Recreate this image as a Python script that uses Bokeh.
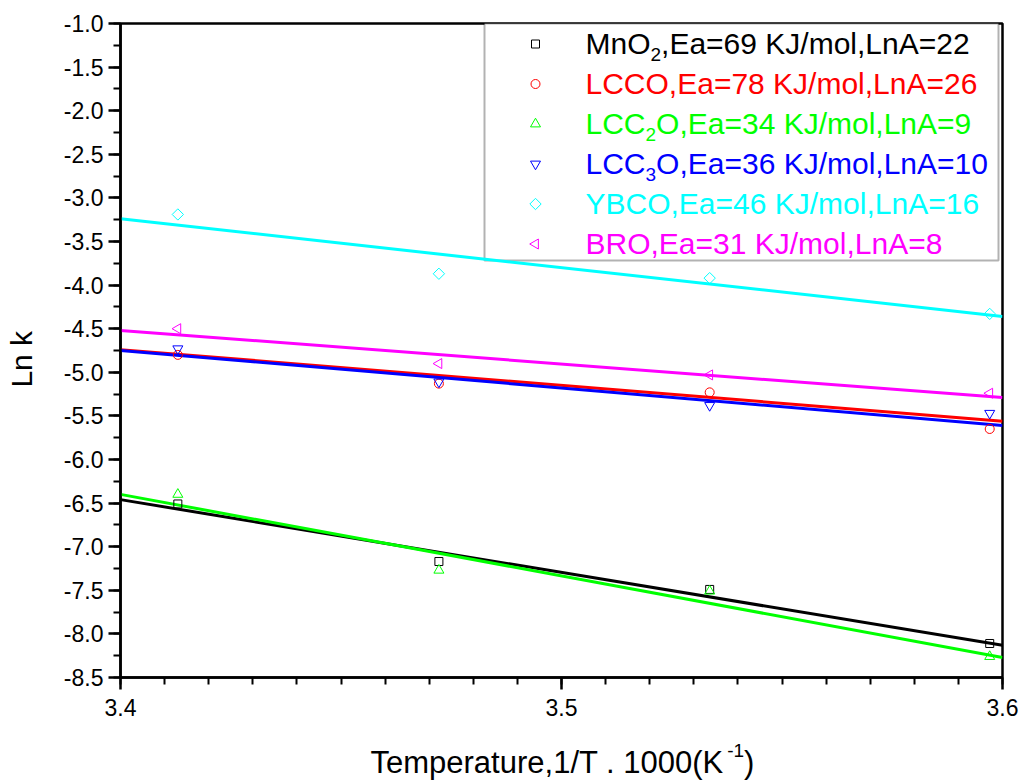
import numpy as np
from bokeh.plotting import figure
from bokeh.layouts import column, row
from bokeh.models import FixedTicker, NumeralTickFormatter, Label, BoxAnnotation, Range1d
from bokeh.embed import file_html
from bokeh.resources import INLINE

# ---------------- data ----------------
inv_T = [3.4130, 3.4722, 3.5336, 3.5971]          # 1000/T (K^-1)

lnk_mno2  = [-6.51, -7.17, -7.49, -8.11]
lnk_lcco  = [-4.80, -5.13, -5.23, -5.65]
lnk_lcc2o = [-6.40, -7.27, -7.51, -8.26]
lnk_lcc3o = [-4.73, -5.11, -5.38, -5.47]
lnk_ybco  = [-3.19, -3.87, -3.92, -4.33]
lnk_bro   = [-4.50, -4.90, -5.03, -5.24]

fit_x     = [3.4, 3.6]
fit_mno2  = [-6.46, -8.13]
fit_lcco  = [-4.74, -5.56]
fit_lcc2o = [-6.40, -8.27]
fit_lcc3o = [-4.75, -5.61]
fit_ybco  = [-3.24, -4.36]
fit_bro   = [-4.52, -5.29]

# legend text pieces: (before subscript, subscript, after subscript)
legend_pieces = [
    ("MnO", "2", ",Ea=69 KJ/mol,LnA=22"),
    ("LCCO,Ea=78 KJ/mol,LnA=26", "", ""),
    ("LCC", "2", "O,Ea=34 KJ/mol,LnA=9"),
    ("LCC", "3", "O,Ea=36 KJ/mol,LnA=10"),
    ("YBCO,Ea=46 KJ/mol,LnA=16", "", ""),
    ("BRO,Ea=31 KJ/mol,LnA=8", "", ""),
]

x_ticks = [3.4, 3.5, 3.6]
y_ticks = [-8.5, -8.0, -7.5, -7.0, -6.5, -6.0, -5.5, -5.0, -4.5, -4.0, -3.5, -3.0, -2.5, -2.0, -1.5, -1.0]
x_minor = [round(3.4 + 0.01 * i, 2) for i in range(21)]
y_minor = [round(-8.5 + 0.25 * i, 2) for i in range(31)]

x_label_main = "Temperature,1/T . 1000(K"
x_label_sup = "-1"
x_label_end = ")"
y_label = "Ln k"

# ---------------- styling / layout ----------------
FONT = "Liberation Sans"
W, H = 1025, 782
YLAB_W = 40            # width of the strip holding the y title
MAIN_H = 740           # height of the main figure
FL, FT, FW, FH = 120, 23, 882, 654   # frame position on the page
X0, X1, Y0, Y1 = 3.4, 3.6, -8.5, -1.0
BASE_FIX = 12          # Label alphabetic-baseline correction (px)

def dx(px):
    return X0 + (px - FL) / FW * (X1 - X0)

def dy(py):
    return Y1 - (py - FT) / FH * (Y1 - Y0)

ARIAL = {'M': 833, 'n': 556, 'O': 778, 'C': 722, 'L': 556, ',': 278, 'E': 667, 'a': 556,
         '=': 584, ' ': 278, 'K': 667, 'J': 500, '/': 278, 'm': 833, 'o': 556, 'l': 222,
         'A': 667, 'Y': 667, 'B': 667, 'R': 722, 'T': 611, 'e': 556, 'p': 556, 'r': 333,
         't': 278, 'u': 556, '(': 333, ')': 333, '-': 333, '.': 278, 'k': 500}

def tw(s, size):
    return sum(ARIAL.get(ch, 556) for ch in s) * size / 1000.0

def lab(x, y, text, color, size, angle=0.0):
    return Label(x=x, y=y, text=text, text_color=color, text_font=FONT,
                 text_font_size=f"{size}px", text_baseline="alphabetic",
                 text_align="left", angle=angle)

p = figure(width=W - YLAB_W, height=MAIN_H, output_backend="svg", toolbar_location=None,
           x_range=Range1d(X0, X1), y_range=Range1d(Y0, Y1),
           min_border_left=FL - YLAB_W, min_border_right=W - FL - FW,
           min_border_top=FT, min_border_bottom=MAIN_H - FT - FH)
p.background_fill_color = "white"
p.border_fill_color = "white"
p.outline_line_color = "black"
p.outline_line_width = 2.5
p.xgrid.visible = False
p.ygrid.visible = False

for ax, ticks, minor in ((p.xaxis, x_ticks, x_minor), (p.yaxis, y_ticks, y_minor)):
    ax.ticker = FixedTicker(ticks=ticks, minor_ticks=minor)
    ax.formatter = NumeralTickFormatter(format="0.0")
    ax.axis_line_width = 2.5
    ax.axis_line_color = "black"
    ax.major_tick_in = 0
    ax.major_tick_out = 12
    ax.minor_tick_in = 0
    ax.minor_tick_out = 7
    ax.major_tick_line_width = 2.5
    ax.minor_tick_line_width = 2
    ax.major_label_text_font = FONT
    ax.major_label_text_font_size = "23px"
    ax.major_label_text_color = "black"
p.xaxis.major_label_standoff = 9
p.yaxis.major_label_standoff = 5

series = [
    (lnk_mno2,  fit_mno2,  "black",   "square",            0.0,        8),
    (lnk_lcco,  fit_lcco,  "#FF0000", "circle",            0.0,        9),
    (lnk_lcc2o, fit_lcc2o, "#00FF00", "triangle",          0.0,        10),
    (lnk_lcc3o, fit_lcc3o, "#0000FF", "inverted_triangle", 0.0,        10),
    (lnk_ybco,  fit_ybco,  "#00FFFF", "square",            np.pi / 4,  8),
    (lnk_bro,   fit_bro,   "#FF00FF", "triangle",          np.pi / 2,  10),
]

# legend frame (under the glyphs)
p.add_layout(BoxAnnotation(left=dx(484), right=dx(998), top=dy(FT), bottom=dy(260),
                           fill_color="white", fill_alpha=1.0, line_color="black",
                           line_width=2, level="underlay"))

for ys, fit, col, mk, ang, sz in series:
    p.line(fit_x, fit, line_color=col, line_width=3)
for ys, fit, col, mk, ang, sz in series:
    p.scatter(inv_T, ys, marker=mk, angle=ang, size=sz, fill_color=None,
              line_color=col, line_width=1)

# legend entries
for i, ((pre, sub, post), (ys, fit, col, mk, ang, sz)) in enumerate(zip(legend_pieces, series)):
    my = 43.5 + 40 * i
    base = my + 11 - BASE_FIX
    p.scatter([dx(535)], [dy(my)], marker=mk, angle=ang, size=sz, fill_color=None,
              line_color=col, line_width=1)
    x = 585
    p.add_layout(lab(dx(x), dy(base), pre, col, 30))
    x += tw(pre, 30)
    if sub:
        p.add_layout(lab(dx(x), dy(base + 11), sub, col, 19))
        x += tw(sub, 19)
    if post:
        p.add_layout(lab(dx(x), dy(base), post, col, 30))

def blank_strip(w, h):
    f = figure(width=w, height=h, output_backend="svg", toolbar_location=None,
               x_range=Range1d(0, w), y_range=Range1d(h, 0),
               x_axis_location=None, y_axis_location=None, min_border=0)
    f.outline_line_color = None
    f.background_fill_color = "white"
    f.border_fill_color = "white"
    f.grid.visible = False
    f.xgrid.visible = False
    f.ygrid.visible = False
    return f

# ---- strip on the left holding the y title ----
ylab = blank_strip(YLAB_W, MAIN_H)
ylab.add_layout(lab(33 - BASE_FIX, 412, y_label, "black", 30, angle=np.pi / 2))

# ---- strip below holding the x title ----
XH = H - MAIN_H
xlab = blank_strip(W, XH)
XF = 31
xb = 774 - MAIN_H - BASE_FIX
xs = 370
xlab.add_layout(lab(xs, xb, x_label_main, "black", XF))
xs2 = xs + tw(x_label_main, XF)
xlab.add_layout(lab(xs2, xb - 12, x_label_sup, "black", 19))
xs3 = xs2 + tw(x_label_sup, 19)
xlab.add_layout(lab(xs3, xb, x_label_end, "black", XF))

layout = column(row(ylab, p), xlab)
open("out.html", "w").write(file_html(layout, INLINE))
